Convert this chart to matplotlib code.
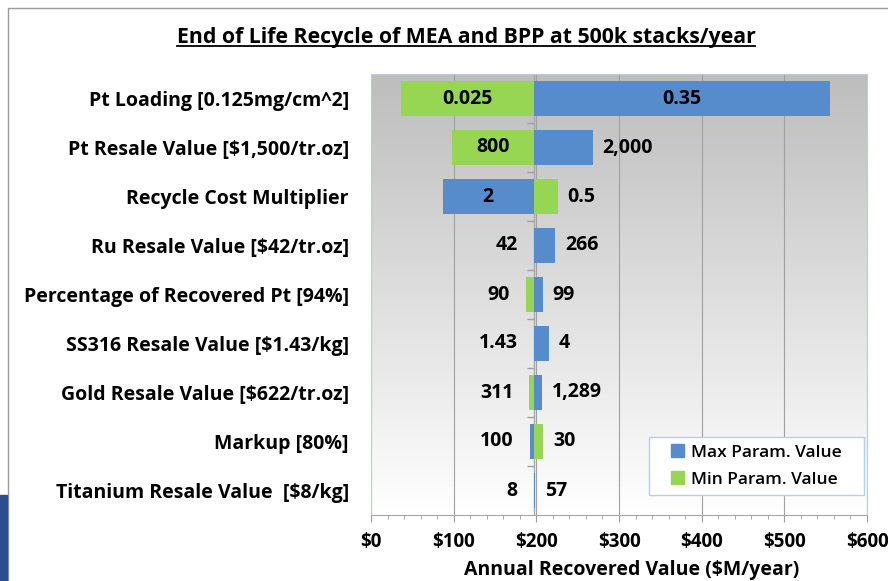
import numpy as np
import matplotlib
matplotlib.use("Agg")
import matplotlib.pyplot as plt
from matplotlib.colors import LinearSegmentedColormap
from matplotlib.patches import Rectangle, Patch
from matplotlib.lines import Line2D

plt.rcParams['font.family'] = ['Open Sans', 'DejaVu Sans']

params = ["Pt Loading [0.125mg/cm^2]",
          "Pt Resale Value [$1,500/tr.oz]",
          "Recycle Cost Multiplier",
          "Ru Resale Value [$42/tr.oz]",
          "Percentage of Recovered Pt [94%]",
          "SS316 Resale Value [$1.43/kg]",
          "Gold Resale Value [$622/tr.oz]",
          "Markup [80%]",
          "Titanium Resale Value  [$8/kg]"]
base = 197
# annual recovered value ($M/year) at the min / max parameter value
min_vals = [36, 97.6, 225.8, 197, 187.5, 197, 191.5, 208.5, 197]
max_vals = [555, 268, 86.7, 223, 207.6, 215, 206.8, 192.3, 198]
min_labels = ['0.025', '800', '0.5', '42', '90', '1.43', '311', '30', '8']
max_labels = ['0.35', '2,000', '2', '266', '99', '4', '1,289', '100', '57']

blue = '#568BCC'
green = '#96D653'

fig = plt.figure(figsize=(8.88, 5.81), dpi=100)
ax = fig.add_axes([371/888, 1-515/581, 496/888, 441/581])

# gradient plot area background
cmap = LinearSegmentedColormap.from_list('bg', ['#bdbdbd', '#ffffff'])
grad = np.linspace(0, 1, 256).reshape(-1, 1)
ax.imshow(grad, cmap=cmap, aspect='auto', extent=[0, 1, 0, 1],
          transform=ax.transAxes, zorder=0)

y = np.arange(len(params))
ax.barh(y, np.array(min_vals) - base, left=base, height=0.72,
        color=green, linewidth=0, zorder=3)
ax.barh(y, np.array(max_vals) - base, left=base, height=0.72,
        color=blue, linewidth=0, zorder=3)

ax.axvline(base, color='#a8a8a8', lw=1, zorder=2)
ax.hlines(np.arange(0.5, len(params) - 1, 1), base - 8, base,
          color='#a0a0a0', lw=1, zorder=2)

# value labels
vfs = 14
for i in range(len(params)):
    for val, lab in ((min_vals[i], min_labels[i]), (max_vals[i], max_labels[i])):
        length = abs(val - base)
        if length > 80:
            ax.text((val + base) / 2, i, lab, ha='center', va='center',
                    fontsize=vfs, fontweight='bold', zorder=4)
        elif val <= base:
            ax.annotate(lab, (min(val, base), i), xytext=(-16, 0),
                        textcoords='offset pixels', ha='right', va='center',
                        fontsize=vfs, fontweight='bold', zorder=4)
        else:
            ax.annotate(lab, (val, i), xytext=(10, 0),
                        textcoords='offset pixels', ha='left', va='center',
                        fontsize=vfs, fontweight='bold', zorder=4)

ax.set_xlim(0, 600)
ax.set_ylim(len(params) - 0.5, -0.5)
ax.set_xticks(np.arange(0, 601, 100))
ax.set_xticklabels(['$%d' % v for v in range(0, 601, 100)],
                   fontsize=13.5, fontweight='bold')
ax.set_xticks(np.arange(0, 601, 20), minor=True)
ax.set_yticks(y)
ax.set_yticklabels(params, fontsize=14, fontweight='bold')
ax.tick_params(axis='y', length=0, pad=16)
ax.tick_params(axis='x', which='major', length=5, pad=7, color='#9a9a9a',
               direction='out')
ax.tick_params(axis='x', which='minor', length=3, color='#9a9a9a',
               direction='out')
ax.grid(axis='x', color='#a0a0a0', lw=0.8, zorder=1)
ax.set_axisbelow(True)
for s in ['top', 'left', 'right']:
    ax.spines[s].set_color('#b9cde5')
ax.spines['bottom'].set_color('#a6a6a6')

# legend: box drawn separately so the side padding can be wider than top/bottom
ax.add_patch(Rectangle((0.5605, 0.0454), 0.4335, 0.1315, transform=ax.transAxes,
                       facecolor='white', edgecolor='#b9cde5', lw=1, zorder=5))
handles = [Patch(color=blue, label='Max Param. Value'),
           Patch(color=green, label='Min Param. Value')]
leg = ax.legend(handles=handles, loc='center', bbox_to_anchor=(0.777, 0.111),
                frameon=False, prop={'size': 12.5, 'weight': 'semibold'},
                handlelength=0.75, handleheight=0.75, handletextpad=0.4,
                borderpad=0, labelspacing=0.6, borderaxespad=0)
leg.set_zorder(6)

fig.text(632/888, 1-570/581, 'Annual Recovered Value ($M/year)',
         ha='center', va='center', fontsize=14, fontweight='bold')

title = fig.text(466/888, 1-37/581,
                 'End of Life Recycle of MEA and BPP at 500k stacks/year',
                 ha='center', va='center', fontsize=15.3, fontweight='bold')

# outer frame and slide edge
fig.add_artist(Rectangle((8/888, -0.1), 1.2, 1.1 - 8/581, fill=False,
                         edgecolor='#9a9a9a', lw=1, transform=fig.transFigure))
fig.add_artist(Rectangle((0, 0), 7/888, 86/581, color='#2b4f8e',
                         transform=fig.transFigure))

# underline the title
fig.canvas.draw()
bb = title.get_window_extent()
W, H = fig.bbox.width, fig.bbox.height
uy = (bb.y0 + 2) / H
fig.add_artist(Line2D([bb.x0 / W, bb.x1 / W], [uy, uy], color='black', lw=1.3,
                      transform=fig.transFigure))

fig.savefig('out.png', dpi=100)
